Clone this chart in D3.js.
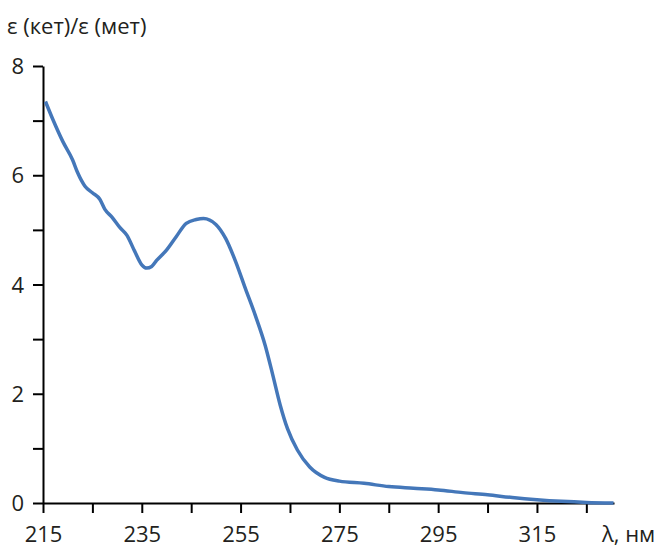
<!DOCTYPE html>
<html>
<head>
<meta charset="utf-8">
<script src="https://cdn.jsdelivr.net/npm/d3@7"></script>
<style>
  body { margin: 0; background: #fff; }
  text { font-family: "Open Sans", "Noto Sans", sans-serif; fill: #231f20; }
</style>
</head>
<body>
<div id="chart"></div>
<script>
// ======= data
var lambda = [215.5, 217, 219, 221, 222, 223.5, 225, 226.5, 227.5, 229, 230.5, 232, 233.5, 235, 236, 237, 238,
  240, 242, 244, 246, 247.5, 250, 252, 254, 256, 258, 260, 261.5, 263, 264.5, 266.5, 269, 272, 275,
  280, 285, 290, 295, 300, 305, 310, 315, 320, 325, 330.5];
var ratio = [7.35, 7.02, 6.62, 6.28, 6.05, 5.80, 5.68, 5.56, 5.38, 5.23, 5.05, 4.90, 4.62, 4.36, 4.30, 4.33, 4.44,
  4.63, 4.88, 5.12, 5.19, 5.21, 5.10, 4.84, 4.42, 3.92, 3.43, 2.88, 2.35, 1.80, 1.36, 0.97, 0.66, 0.47, 0.40,
  0.36, 0.30, 0.27, 0.24, 0.19, 0.15, 0.10, 0.06, 0.03, 0.01, 0.0];
var xTicks = [215, 225, 235, 245, 255, 265, 275, 285, 295, 305, 315, 325];
var xLabels = [215, 235, 255, 275, 295, 315];
var yTicks = [0, 1, 2, 3, 4, 5, 6, 7, 8];
var yLabels = [0, 2, 4, 6, 8];

var svg = d3.select("#chart").append("svg")
  .attr("width", 660)
  .attr("height", 546);

var x = d3.scaleLinear().domain([215, 330.6]).range([43, 614]);
var y = d3.scaleLinear().domain([0, 8]).range([503, 66]);

// ======= axes
var xAxis = svg.append("g")
  .attr("transform", "translate(0," + y(0) + ")")
  .call(d3.axisBottom(x).tickValues(xTicks).tickSize(10).tickSizeOuter(0)
    .tickFormat(function(d) { return xLabels.indexOf(d) >= 0 ? d : ""; }));

var yAxis = svg.append("g")
  .attr("transform", "translate(" + x(215) + ",0)")
  .call(d3.axisLeft(y).tickValues(yTicks).tickSize(10).tickSizeOuter(0)
    .tickFormat(function(d) { return yLabels.indexOf(d) >= 0 ? d : ""; }));

svg.selectAll(".domain, .tick line")
  .attr("stroke", "#000")
  .attr("stroke-width", 2);

xAxis.selectAll("text")
  .attr("font-size", "22px")
  .attr("dy", "0")
  .attr("y", 39);

yAxis.selectAll("text")
  .attr("font-size", "22px")
  .attr("x", -19)
  .attr("dy", "0.35em");

// ======= curve
var line = d3.line()
  .x(function(d, j) { return x(lambda[j]); })
  .y(function(d) { return y(d); })
  .curve(d3.curveMonotoneX);

svg.append("path")
  .datum(ratio)
  .attr("fill", "none")
  .attr("stroke", "#4477b9")
  .attr("stroke-width", 3.5)
  .attr("stroke-linejoin", "round")
  .attr("d", line);

// ======= titles
svg.append("text")
  .attr("x", 7)
  .attr("y", 34)
  .attr("font-size", "22px")
  .text("ε (кет)/ε (мет)");

svg.append("text")
  .attr("x", 602)
  .attr("y", 542)
  .attr("font-size", "22px")
  .text("λ, нм");
</script>
</body>
</html>
